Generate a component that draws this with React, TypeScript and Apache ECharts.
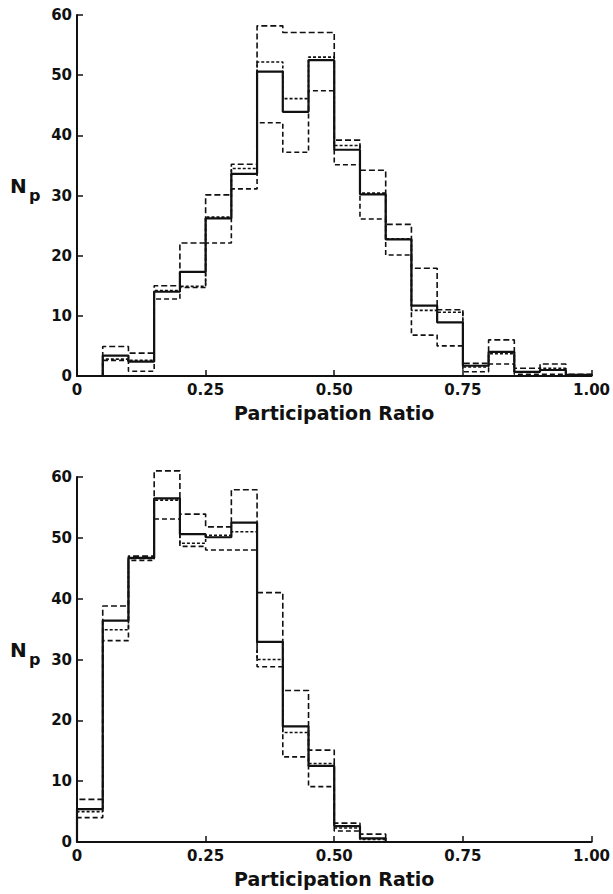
import React, { useEffect, useRef } from "react";
import * as echarts from "echarts";

// Top histogram: bin left edges (bin width 0.05)
const topEdges = [0.05, 0.1, 0.15, 0.2, 0.25, 0.3, 0.35, 0.4, 0.45, 0.5, 0.55, 0.6, 0.65, 0.7, 0.75, 0.8, 0.85, 0.9, 0.95];
const topSolid = [3.4, 2.4, 14.0, 17.3, 26.2, 33.6, 50.6, 43.9, 52.5, 37.6, 30.2, 22.7, 11.7, 8.9, 1.7, 4.0, 0.7, 1.0, 0.2];
const topHigh = [4.9, 3.8, 15.0, 22.1, 30.1, 35.2, 58.2, 57.1, 57.1, 39.2, 34.2, 25.2, 17.9, 11.0, 2.1, 6.0, 1.3, 2.0, 0.3];
const topMid = [2.8, 2.6, 14.2, 14.9, 26.4, 34.5, 52.2, 46.1, 53.0, 38.3, 30.4, 22.8, 10.9, 10.6, 1.5, 3.7, 0.7, 1.3, 0];
const topLow = [2.6, 0.8, 12.8, 14.7, 22.1, 31.1, 42.1, 37.2, 47.4, 35.1, 26.1, 20.1, 6.8, 5.0, 0.7, 2.0, 0.3, 0.3, 0];

// Bottom histogram
const botEdges = [0, 0.05, 0.1, 0.15, 0.2, 0.25, 0.3, 0.35, 0.4, 0.45, 0.5, 0.55];
const botSolid = [5.4, 36.4, 46.7, 56.5, 50.6, 50.1, 52.5, 32.9, 19.0, 12.5, 2.6, 0.6];
const botHigh = [7.0, 38.8, 47.0, 61.0, 53.9, 51.8, 57.9, 41.0, 24.9, 15.1, 3.1, 1.3];
const botMid = [5.0, 34.9, 46.6, 56.2, 49.1, 50.4, 51.0, 30.0, 18.0, 12.9, 2.3, 0.4];
const botLow = [4.0, 33.1, 46.3, 53.1, 48.6, 48.0, 48.0, 28.8, 14.0, 9.1, 1.8, 0];

const BIN_WIDTH = 0.05;
const xTicks = [0, 0.25, 0.5, 0.75, 1.0];
const yMax = 60;
const xTitle = "Participation Ratio";

const FONT = "DejaVu Sans";
const INK = "#111";

function steps(edges: number[], vals: number[]) {
  const d: number[][] = [[edges[0], 0]];
  edges.forEach((e, i) => d.push([e, vals[i]]));
  d.push([edges[edges.length - 1] + BIN_WIDTH, 0]);
  return d;
}

export default function App() {
  const ref = useRef<HTMLDivElement>(null);
  useEffect(() => {
    if (!ref.current) return;
    const chart = echarts.init(ref.current, null, { renderer: "svg" });
    const axisCommon = {
      axisLine: { show: true, onZero: false, lineStyle: { color: INK, width: 2 } },
      axisTick: { show: true, inside: true, length: 6, lineStyle: { color: INK, width: 1.5 } },
      splitLine: { show: false },
    };
    const xAxis = (gi: number) => ({
      type: "value",
      gridIndex: gi,
      min: 0,
      max: 1,
      interval: 0.25,
      ...axisCommon,
      axisLabel: {
        color: INK,
        fontFamily: FONT,
        fontWeight: "bold",
        fontSize: 15,
        margin: 6,
        formatter: (v: number) => (xTicks.indexOf(v) >= 0 ? (v === 0 ? "0" : v.toFixed(2)) : ""),
      },
      name: xTitle,
      nameLocation: "middle",
      nameGap: 27,
      nameTextStyle: { color: INK, fontFamily: FONT, fontWeight: "bold", fontSize: 19, verticalAlign: "top" },
    });
    const yAxis = (gi: number) => ({
      type: "value",
      gridIndex: gi,
      min: 0,
      max: yMax,
      interval: 10,
      ...axisCommon,
      axisLabel: { color: INK, fontFamily: FONT, fontWeight: "bold", fontSize: 15, margin: 5 },
    });
    const solid = (gi: number, edges: number[], vals: number[]) => ({
      type: "line",
      xAxisIndex: gi,
      yAxisIndex: gi,
      step: "end",
      symbol: "none",
      clip: false,
      z: 5,
      lineStyle: { color: INK, width: 2.2 },
      data: steps(edges, vals),
    });
    const dashed = (gi: number, edges: number[], vals: number[], dash: number[]) => ({
      type: "line",
      xAxisIndex: gi,
      yAxisIndex: gi,
      step: "end",
      symbol: "none",
      clip: false,
      z: 3,
      lineStyle: { color: INK, width: 1.6, type: dash },
      data: steps(edges, vals),
    });
    const np = (nY: number) => [
      {
        type: "text",
        left: 10,
        top: nY - 12,
        style: { text: "N", font: `bold 20px "${FONT}"`, fill: INK },
      },
      {
        type: "text",
        left: 29,
        top: nY - 1,
        style: { text: "p", font: `bold 16px "${FONT}"`, fill: INK },
      },
    ];
    chart.setOption({
      animation: false,
      backgroundColor: "#fff",
      grid: [
        { left: 77, right: 17, top: 15, height: 361 },
        { left: 77, right: 14, top: 477, height: 365 },
      ],
      xAxis: [xAxis(0), xAxis(1)],
      yAxis: [yAxis(0), yAxis(1)],
      graphic: [...np(188), ...np(652)],
      series: [
        dashed(0, topEdges, topHigh, [6, 3]),
        dashed(0, topEdges, topMid, [3, 2]),
        dashed(0, topEdges, topLow, [5, 3]),
        solid(0, topEdges, topSolid),
        dashed(1, botEdges, botHigh, [6, 3]),
        dashed(1, botEdges, botMid, [3, 2]),
        dashed(1, botEdges, botLow, [5, 3]),
        solid(1, botEdges, botSolid),
      ],
    });
    return () => chart.dispose();
  }, []);
  return (
    <div
      ref={ref}
      style={{ position: "fixed", left: 0, top: 0, width: 613, height: 894, background: "#fff" }}
    />
  );
}
